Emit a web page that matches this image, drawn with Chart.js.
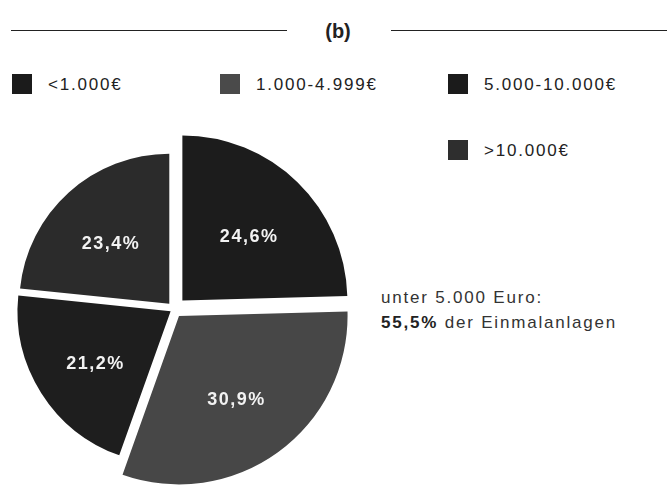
<!DOCTYPE html>
<html>
<head>
<meta charset="utf-8">
<script src="https://cdn.jsdelivr.net/npm/chart.js@4.4.1/dist/chart.umd.min.js"></script>
<style>
  body { margin: 0; background: #fff; font-family: "Liberation Sans", Arial, sans-serif; }
  #wrap { position: relative; width: 670px; height: 485px; overflow: hidden; }
  #pie { position: absolute; left: 0; top: 0; }
  .rule { position: absolute; top: 30px; height: 0; border-top: 1.6px solid #222; }
  #title { position: absolute; left: 318px; width: 40px; top: 20px; text-align: center; font-weight: bold; font-size: 20px; color: #222; }
  .item { position: absolute; height: 20px; line-height: 20px; font-size: 17px; letter-spacing: 1.8px; color: #222; white-space: nowrap; }
  .item span { position: absolute; left: 0; top: 0; width: 20px; height: 20px; }
  .item b { position: absolute; top: 1px; font-weight: normal; }
  #note { position: absolute; left: 381px; top: 285px; font-size: 17px; line-height: 25px; letter-spacing: 1.8px; color: #333; white-space: nowrap; }
  #note strong { color: #222; }
</style>
</head>
<body>
<div id="wrap">
  <div class="rule" style="left:11px; width:276px;"></div>
  <div class="rule" style="left:391px; width:276px;"></div>
  <div id="title">(b)</div>
  <div id="legend"></div>
  <div id="note"></div>
  <canvas id="pie" width="670" height="485"></canvas>
</div>
<script>
// Data
const categories = ["<1.000€", "1.000-4.999€", "5.000-10.000€", ">10.000€"];
const shares = [24.6, 30.9, 21.2, 23.4];
const noteLine1 = "unter 5.000 Euro:";
const noteValue = "55,5%";
const noteLine2 = "der Einmalanlagen";

// Styles
const sliceColors = ["#1c1c1c", "#474747", "#1e1e1e", "#2b2b2b"];
const swatchColors = ["#1b1b1b", "#4a4a4a", "#1b1b1b", "#2e2e2e"];
const sliceOffsets = [48, 34, 16, 28];
const sliceRadii = [165, 168, 153, 150];
const legendSpots = [[12, 74], [220, 74], [448, 74], [448, 140]];
const labelDrop = 5;

// Legend (HTML)
let legend = document.getElementById("legend");
categories.forEach((cat, i) => {
    let item = document.createElement("div");
    item.className = "item";
    item.style.left = legendSpots[i][0] + "px";
    item.style.top = legendSpots[i][1] + "px";
    let sw = document.createElement("span");
    sw.style.background = swatchColors[i];
    let txt = document.createElement("b");
    txt.style.left = "36px";
    txt.textContent = cat;
    item.appendChild(sw);
    item.appendChild(txt);
    legend.appendChild(item);
});

let note = document.getElementById("note");
note.innerHTML = noteLine1 + "<br><strong>" + noteValue + "</strong> " + noteLine2;

// each slice gets its own radius
const sliceSizes = {
    id: "sliceSizes",
    afterDatasetsUpdate(chart) {
        chart.getDatasetMeta(0).data.forEach((arc, i) => {
            arc.outerRadius = sliceRadii[i];
        });
    }
};

// percentage labels inside the slices
const sliceLabels = {
    id: "sliceLabels",
    afterDatasetsDraw(chart) {
        let ctx = chart.ctx;
        ctx.save();
        ctx.font = "bold 18px 'Liberation Sans', Arial, sans-serif";
        ctx.letterSpacing = "1.5px";
        ctx.fillStyle = "#f2f2f2";
        ctx.textAlign = "center";
        ctx.textBaseline = "middle";
        chart.getDatasetMeta(0).data.forEach((arc, i) => {
            let mid = (arc.startAngle + arc.endAngle) / 2;
            let off = (arc.options.offset || 0) / 4;
            let fix = 1 - Math.sin(Math.min(Math.PI, arc.circumference));
            let r = arc.outerRadius * 0.58 + off * (1 + fix);
            let text = shares[i].toFixed(1).replace(".", ",") + "%";
            ctx.fillText(text, arc.x + Math.cos(mid) * r, arc.y + Math.sin(mid) * r + labelDrop);
        });
        ctx.restore();
    }
};

new Chart(document.getElementById("pie").getContext("2d"), {
    type: "pie",
    data: {
        labels: categories,
        datasets: [{
            data: shares,
            backgroundColor: sliceColors,
            borderWidth: 0,
            offset: sliceOffsets,
            clip: false
        }]
    },
    options: {
        responsive: false,
        animation: false,
        layout: { padding: { left: 0, right: 322, top: 133, bottom: 0 } },
        plugins: {
            legend: { display: false },
            tooltip: { enabled: false }
        }
    },
    plugins: [sliceSizes, sliceLabels]
});
</script>
</body>
</html>
